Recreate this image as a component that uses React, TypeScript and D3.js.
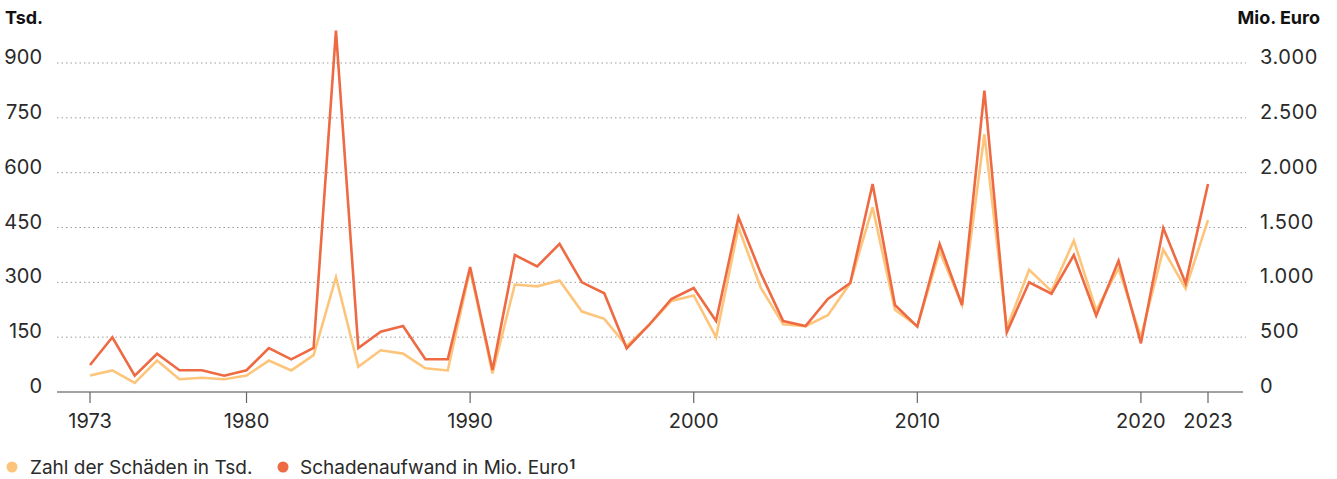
import React, { useEffect, useRef } from 'react'
import * as d3 from 'd3'

const years = d3.range(1973, 2024)
// Zahl der Schäden in Tsd. (linke Achse)
const claims = [
  45, 59, 25, 86, 35, 39, 35, 45, 86, 59, 101, 314, 69, 114, 105, 65, 59,
  335, 51, 294, 289, 305, 220, 200, 126, 183, 249, 264, 150, 450, 285, 185,
  180, 210, 298, 505, 225, 180, 385, 238, 705, 175, 334, 276, 414, 224, 338,
  150, 390, 283, 470,
]
// Schadenaufwand in Mio. Euro (rechte Achse)
const costs = [
  246, 499, 149, 349, 198, 198, 149, 198, 401, 298, 401, 3295, 401, 550, 602,
  298, 298, 1140, 200, 1249, 1146, 1350, 1000, 900, 398, 611, 848, 948, 647,
  1593, 1082, 647, 602, 848, 994, 1897, 793, 596, 1350, 793, 2748, 544, 1000,
  896, 1249, 696, 1197, 444, 1496, 991, 1897,
]
const leftTicks = [0, 150, 300, 450, 600, 750, 900]
const rightTicks = [0, 500, 1000, 1500, 2000, 2500, 3000]
const yearTicks = [1973, 1980, 1990, 2000, 2010, 2020, 2023]

const width = 1337
const height = 479
const font = 'Inter, "Noto Sans", sans-serif'
const colClaims = '#fdc57b'
const colCosts = '#ee6a43'

export default function App() {
  const ref = useRef(null)

  useEffect(() => {
    document.body.style.margin = '0'
    const svg = d3.select(ref.current)
    svg.selectAll('*').remove()

    const x = d3.scaleLinear().domain([1973, 2023]).range([90, 1208])
    const yL = d3.scaleLinear().domain([0, 900]).range([392, 63])
    const yR = d3.scaleLinear().domain([0, 3000]).range([392, 63])

    // gridlines
    svg.append('g')
      .selectAll('line')
      .data(leftTicks.slice(1))
      .enter()
      .append('line')
      .attr('x1', 57)
      .attr('x2', 1246)
      .attr('y1', d => yL(d))
      .attr('y2', d => yL(d))
      .attr('stroke', '#9a9a9a')
      .attr('stroke-width', 1)
      .attr('stroke-dasharray', '1.5,3')

    // left labels
    svg.append('g')
      .selectAll('text')
      .data(leftTicks)
      .enter()
      .append('text')
      .attr('x', 42)
      .attr('y', d => yL(d) + 1)
      .attr('text-anchor', 'end')
      .attr('font-family', font)
      .attr('font-size', 20)
      .attr('fill', '#2a2a2a')
      .text(d => d)

    // right labels
    svg.append('g')
      .selectAll('text')
      .data(rightTicks)
      .enter()
      .append('text')
      .attr('x', 1260)
      .attr('y', d => yR(d) + 1)
      .attr('font-family', font)
      .attr('font-size', 20)
      .attr('letter-spacing', 0.6)
      .attr('fill', '#2a2a2a')
      .text(d => d3.format(',')(d).replace(/,/g, '.'))

    // axis titles
    svg.append('text')
      .attr('x', 5).attr('y', 24)
      .attr('font-family', font).attr('font-size', 18).attr('font-weight', 700)
      .attr('fill', '#111')
      .text('Tsd.')
    svg.append('text')
      .attr('x', 1320).attr('y', 24)
      .attr('text-anchor', 'end')
      .attr('font-family', font).attr('font-size', 18).attr('font-weight', 700)
      .attr('fill', '#111')
      .text('Mio. Euro')

    // baseline + year ticks
    svg.append('line')
      .attr('x1', 57).attr('x2', 1243)
      .attr('y1', 392).attr('y2', 392)
      .attr('stroke', '#444').attr('stroke-width', 1.2)

    const xt = svg.append('g')
    xt.selectAll('line')
      .data(yearTicks)
      .enter()
      .append('line')
      .attr('x1', d => x(d)).attr('x2', d => x(d))
      .attr('y1', 392).attr('y2', 403)
      .attr('stroke', '#666').attr('stroke-width', 1.2)
    xt.selectAll('text')
      .data(yearTicks)
      .enter()
      .append('text')
      .attr('x', d => x(d))
      .attr('y', 428)
      .attr('text-anchor', 'middle')
      .attr('font-family', font)
      .attr('font-size', 20)
      .attr('fill', '#2a2a2a')
      .text(d => d)

    // lines
    const lineL = d3.line<number>().x((d, i) => x(years[i])).y(d => yL(d))
    const lineR = d3.line<number>().x((d, i) => x(years[i])).y(d => yR(d))

    svg.append('path')
      .datum(claims)
      .attr('d', lineL)
      .attr('fill', 'none')
      .attr('stroke', colClaims)
      .attr('stroke-width', 2.6)
      .attr('stroke-linejoin', 'miter')

    svg.append('path')
      .datum(costs)
      .attr('d', lineR)
      .attr('fill', 'none')
      .attr('stroke', colCosts)
      .attr('stroke-width', 2.6)
      .attr('stroke-linejoin', 'miter')

    // legend
    const lg = svg.append('g').attr('font-family', font).attr('font-size', 19).attr('fill', '#2a2a2a')
    lg.append('circle').attr('cx', 12).attr('cy', 467).attr('r', 5.5).attr('fill', colClaims)
    lg.append('text').attr('x', 30).attr('y', 474).text('Zahl der Schäden in Tsd.')
    lg.append('circle').attr('cx', 283).attr('cy', 467).attr('r', 5.5).attr('fill', colCosts)
    const t2 = lg.append('text').attr('x', 300).attr('y', 474)
    t2.append('tspan').text('Schadenaufwand in Mio. Euro')
    t2.append('tspan')
      .attr('font-weight', 700)
      .attr('font-size', 13)
      .attr('dx', 1)
      .attr('dy', -5)
      .text('1')
  }, [])

  return <svg ref={ref} width={width} height={height} style={{ display: 'block' }} />
}
